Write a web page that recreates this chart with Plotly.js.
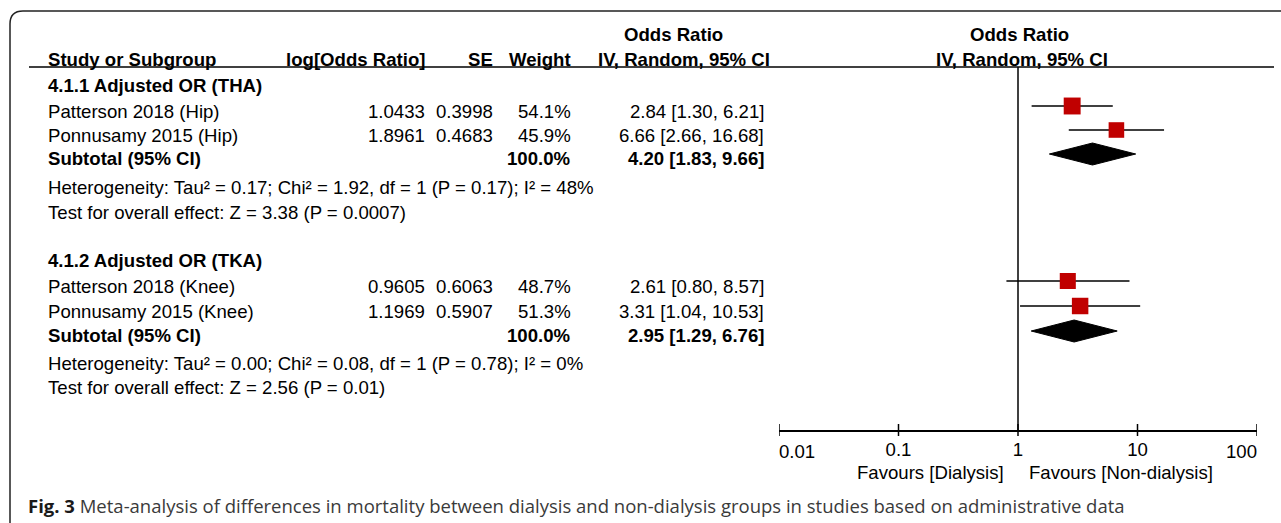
<!DOCTYPE html>
<html>
<head>
<meta charset="utf-8">
<script src="https://cdn.plot.ly/plotly-3.0.1.min.js"></script>
<style>html,body{margin:0;padding:0;background:#fff;}#chart{width:1281px;height:523px;}</style>
</head>
<body>
<div id="chart"></div>
<script>
// ---------------- DATA ----------------
const subgroups = ['4.1.1 Adjusted OR (THA)', '4.1.2 Adjusted OR (TKA)'];
const studyNames = ['Patterson 2018 (Hip)', 'Ponnusamy 2015 (Hip)', 'Patterson 2018 (Knee)', 'Ponnusamy 2015 (Knee)'];
const logOR = ['1.0433', '1.8961', '0.9605', '1.1969'];
const seVals = ['0.3998', '0.4683', '0.6063', '0.5907'];
const weights = [54.1, 45.9, 48.7, 51.3];
const orVals = [2.84, 6.66, 2.61, 3.31];
const ciLow = [1.30, 2.66, 0.80, 1.04];
const ciHigh = [6.21, 16.68, 8.57, 10.53];
const subWeight = ['100.0%', '100.0%'];
const subOR = [4.20, 2.95];
const subLow = [1.83, 1.29];
const subHigh = [9.66, 6.76];
const heterogeneity = [
  'Heterogeneity: Tau² = 0.17; Chi² = 1.92, df = 1 (P = 0.17); I² = 48%',
  'Heterogeneity: Tau² = 0.00; Chi² = 0.08, df = 1 (P = 0.78); I² = 0%'
];
const overallEffect = [
  'Test for overall effect: Z = 3.38 (P = 0.0007)',
  'Test for overall effect: Z = 2.56 (P = 0.01)'
];
const tickVals = [0.01, 0.1, 1, 10, 100];
const tickLabels = ['0.01', '0.1', '1', '10', '100'];
const favourLeft = 'Favours [Dialysis]';
const favourRight = 'Favours [Non-dialysis]';
const caption = 'Meta-analysis of differences in mortality between dialysis and non-dialysis groups in studies based on administrative data';

// ---------------- LAYOUT (pixel positions) ----------------
const W = 1281, H = 523;
const px = v => v / W;
const FONT = 'Liberation Sans, Arial, sans-serif';
const FS = 18.6;
const groupHeadY = [85, 260];
const studyTextY = [111, 135, 286, 311];
const subTextY = [158, 335];
const hetY = [187, 363];
const testY = [212, 387];
const markShift = -5;
const diamondHalf = 11;
const colX = {name: 46, logor: 427, se: 495, weight: 573, ci: 766};
const axisY = 430;
const tickHalf = 6;

const ann = [];
function txt(text, x, y, anchor, bold) {
  ann.push({
    text: bold ? '<b>' + text + '</b>' : text,
    xref: 'paper', yref: 'y', x: px(x), y: y,
    xanchor: anchor, yanchor: 'middle', showarrow: false,
    font: {family: FONT, size: FS, color: '#000'}
  });
}
// headers
txt('Odds Ratio', 673, 34, 'center', true);
txt('Odds Ratio', 1019, 34, 'center', true);
txt('Study or Subgroup', colX.name, 59, 'left', true);
txt('log[Odds Ratio]', colX.logor, 59, 'right', true);
txt('SE', colX.se, 59, 'right', true);
txt('Weight', colX.weight, 59, 'right', true);
txt('IV, Random, 95% CI', 684, 59, 'center', true);
txt('IV, Random, 95% CI', 1022, 59, 'center', true);

const fmtCI = (o, l, h) => o.toFixed(2) + ' [' + l.toFixed(2) + ', ' + h.toFixed(2) + ']';
subgroups.forEach((g, gi) => {
  txt(g, colX.name, groupHeadY[gi], 'left', true);
  txt('Subtotal (95% CI)', colX.name, subTextY[gi], 'left', true);
  txt(subWeight[gi], colX.weight, subTextY[gi], 'right', true);
  txt(fmtCI(subOR[gi], subLow[gi], subHigh[gi]), colX.ci, subTextY[gi], 'right', true);
  txt(heterogeneity[gi], colX.name, hetY[gi], 'left', false);
  txt(overallEffect[gi], colX.name, testY[gi], 'left', false);
});
studyNames.forEach((s, i) => {
  const y = studyTextY[i];
  txt(s, colX.name, y, 'left', false);
  txt(logOR[i], colX.logor, y, 'right', false);
  txt(seVals[i], colX.se, y, 'right', false);
  txt(weights[i].toFixed(1) + '%', colX.weight, y, 'right', false);
  txt(fmtCI(orVals[i], ciLow[i], ciHigh[i]), colX.ci, y, 'right', false);
});
txt(favourLeft, 1006, 472, 'right', false);
txt(favourRight, 1027, 472, 'left', false);
ann.push({
  text: '<b><span style="color:#1a1a1a">Fig. 3</span></b> ' + caption,
  xref: 'paper', yref: 'y', x: px(26), y: 505, xanchor: 'left', yanchor: 'middle',
  showarrow: false, font: {family: 'Open Sans, Noto Sans, sans-serif', size: 18.5, color: '#3a3a3a'}
});

// ---------------- TRACES ----------------
const traces = [];
// CI lines
const ciX = [], ciY = [];
orVals.forEach((o, i) => {
  ciX.push(ciLow[i], ciHigh[i], null);
  const y = studyTextY[i] + markShift;
  ciY.push(y, y, null);
});
traces.push({type: 'scatter', mode: 'lines', x: ciX, y: ciY, xaxis: 'x', yaxis: 'y',
  line: {color: '#000', width: 1.5}, hoverinfo: 'skip'});
// squares
traces.push({type: 'scatter', mode: 'markers', x: orVals,
  y: studyTextY.map(v => v + markShift), xaxis: 'x', yaxis: 'y',
  marker: {symbol: 'square', color: '#c00000', opacity: 1,
           size: weights.map(w => 2.3 * Math.sqrt(w)), line: {width: 0}}});
// diamonds
subOR.forEach((o, gi) => {
  const yc = subTextY[gi] + markShift + 1;
  traces.push({type: 'scatter', mode: 'lines', fill: 'toself', fillcolor: '#000',
    x: [subLow[gi], o, subHigh[gi], o, subLow[gi]],
    y: [yc, yc - diamondHalf, yc, yc + diamondHalf, yc],
    xaxis: 'x', yaxis: 'y', line: {color: '#000', width: 1}, hoverinfo: 'skip'});
});
// line of no effect
traces.push({type: 'scatter', mode: 'lines', x: [1, 1], y: [67, axisY], xaxis: 'x', yaxis: 'y',
  line: {color: '#000', width: 1.5}, hoverinfo: 'skip'});
// axis tick marks crossing the axis line
const tkX = [], tkY = [];
tickVals.forEach(v => { tkX.push(v, v, null); tkY.push(axisY - tickHalf, axisY + tickHalf, null); });
traces.push({type: 'scatter', mode: 'lines', x: tkX, y: tkY, xaxis: 'x', yaxis: 'y',
  line: {color: '#000', width: 1.5}, hoverinfo: 'skip'});
// placeholder traces to register overlay axes
traces.push({type: 'scatter', mode: 'markers', x: [1], y: [null], xaxis: 'x2', yaxis: 'y', hoverinfo: 'skip'});
traces.push({type: 'scatter', mode: 'markers', x: [1], y: [null], xaxis: 'x3', yaxis: 'y', hoverinfo: 'skip'});

const dom = [px(779), px(1257)];
const pos = (H - axisY) / H;
const baseAx = {type: 'log', range: [-2, 2], domain: dom, anchor: 'free', position: pos,
  showgrid: false, zeroline: false, fixedrange: true, tickvals: tickVals, ticks: '',
  tickfont: {family: FONT, size: FS, color: '#000'}};

const layout = {
  width: W, height: H, margin: {l: 0, r: 0, t: 0, b: 0},
  paper_bgcolor: '#fff', plot_bgcolor: 'rgba(0,0,0,0)', showlegend: false,
  xaxis: Object.assign({}, baseAx, {showline: true, linecolor: '#000', linewidth: 1.5,
    ticklabelstandoff: 2,
    ticktext: tickLabels.map((t, i) => (i === 0 || i === tickLabels.length - 1) ? '' : t)}),
  xaxis2: Object.assign({}, baseAx, {overlaying: 'x', showline: false, ticklabelstandoff: 8,
    ticktext: tickLabels.map((t, i) => i === 0 ? t : ''), ticklabelposition: 'outside right'}),
  xaxis3: Object.assign({}, baseAx, {overlaying: 'x', showline: false, ticklabelstandoff: 8,
    ticktext: tickLabels.map((t, i) => i === tickLabels.length - 1 ? t : ''), ticklabelposition: 'outside left'}),
  yaxis: {range: [H, 0], domain: [0, 1], visible: false, fixedrange: true},
  annotations: ann,
  shapes: [
    {type: 'path', xref: 'paper', yref: 'y',
     path: 'M ' + px(10) + ' ' + H + ' L ' + px(10) + ' 24 Q ' + px(10) + ' 11 ' + px(23) + ' 11 L 1 11',
     line: {color: '#222', width: 1.5}},
    {type: 'line', xref: 'paper', yref: 'y', x0: px(29), x1: px(1274), y0: 67, y1: 67,
     line: {color: '#000', width: 1.5}}
  ]
};

Plotly.newPlot('chart', traces, layout, {staticPlot: true, displayModeBar: false});
</script>
</body>
</html>
